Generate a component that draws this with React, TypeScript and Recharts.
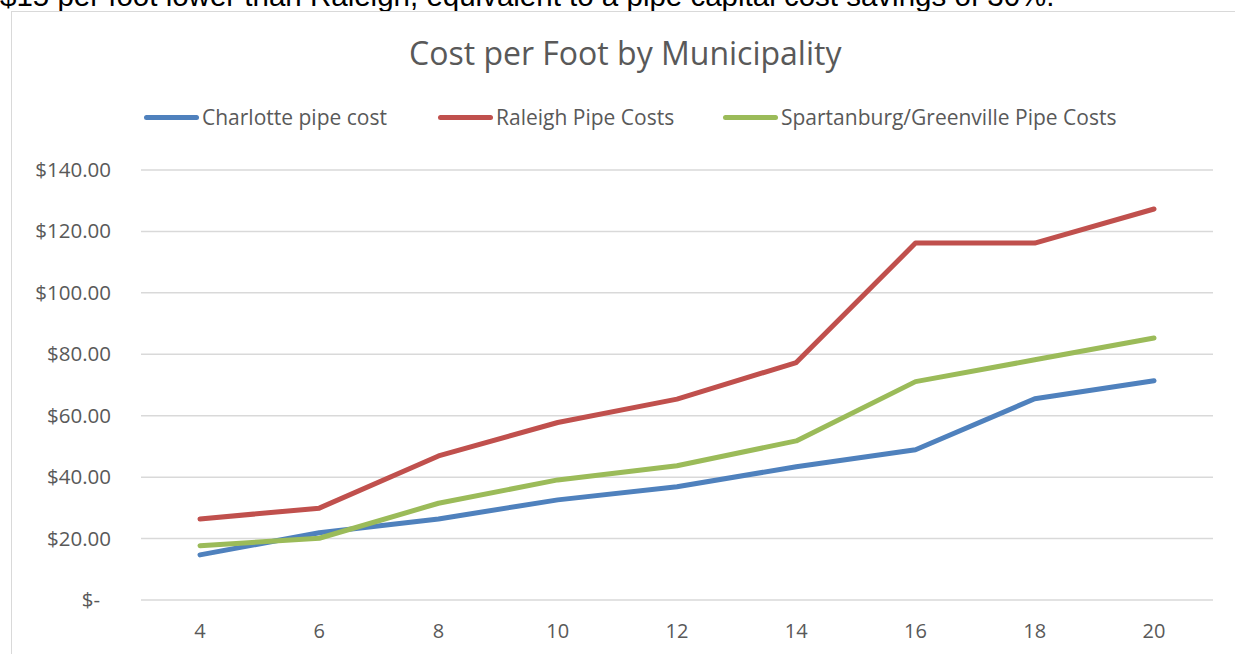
import { LineChart, Line, XAxis, YAxis, CartesianGrid } from "recharts";

const sizes = [4, 6, 8, 10, 12, 14, 16, 18, 20];
const charlotte = [14.7, 21.9, 26.4, 32.6, 36.9, 43.4, 48.9, 65.5, 71.4];
const raleigh = [26.4, 29.9, 46.9, 57.8, 65.4, 77.3, 116.2, 116.2, 127.3];
const spartanburg = [17.7, 20.1, 31.5, 39.1, 43.7, 51.8, 71.1, 78.2, 85.3];
const yTicks = [0, 20, 40, 60, 80, 100, 120, 140];

const series = [
  { key: "charlotte", name: "Charlotte pipe cost", color: "#4f81bd", left: 144 },
  { key: "raleigh", name: "Raleigh Pipe Costs", color: "#c0504d", left: 438 },
  { key: "spartanburg", name: "Spartanburg/Greenville Pipe Costs", color: "#9bbb59", left: 723 },
];

const data = sizes.map((s, i) => ({
  size: s,
  charlotte: charlotte[i],
  raleigh: raleigh[i],
  spartanburg: spartanburg[i],
}));

const FONT = "'Open Sans', Lato, sans-serif";
const GREY = "#595959";

function fmtMoney(v: number) {
  return v === 0 ? "$-" : "$" + v.toFixed(2);
}

function YTick(props: any) {
  const { x, y, payload } = props;
  const v = payload.value;
  return (
    <text
      x={v === 0 ? x - 33 : x - 22}
      y={y}
      dy={7}
      textAnchor="end"
      fill={GREY}
      fontSize={20.5}
      fontFamily={FONT}
    >
      {fmtMoney(v)}
    </text>
  );
}

function XTick(props: any) {
  const { x, y, payload } = props;
  return (
    <text x={x} y={y} dy={30} textAnchor="middle" fill={GREY} fontSize={20} fontFamily={FONT}>
      {payload.value}
    </text>
  );
}

export default function App() {
  return (
    <div style={{ position: "relative", width: 1235, height: 654, overflow: "hidden", background: "#fff" }}>
      <style>{"body{margin:0}"}</style>
      <div
        style={{
          position: "absolute",
          left: 0,
          top: -21,
          fontFamily: "'Liberation Sans', Arial, sans-serif",
          fontSize: 29.5,
          color: "#000",
          whiteSpace: "nowrap",
        }}
      >
        $15 per foot lower than Raleigh, equivalent to a pipe capital cost savings of 30%.
      </div>
      <div
        style={{
          position: "absolute",
          left: 11,
          top: 11,
          width: 1300,
          height: 700,
          borderLeft: "1.5px solid #d9d9d9",
          borderTop: "1.5px solid #d9d9d9",
          background: "#fff",
        }}
      />
      <div
        style={{
          position: "absolute",
          left: 409,
          top: 31,
          fontFamily: FONT,
          fontSize: 32,
          color: GREY,
          whiteSpace: "nowrap",
        }}
      >
        Cost per Foot by Municipality
      </div>
      {series.map((s) => (
        <div
          key={s.key}
          style={{
            position: "absolute",
            left: s.left,
            top: 103,
            display: "flex",
            alignItems: "center",
            fontFamily: FONT,
            fontSize: 21,
            color: GREY,
            whiteSpace: "nowrap",
          }}
        >
          <div style={{ width: 55, height: 5, borderRadius: 3, background: s.color, marginRight: 3 }} />
          <span>{s.name}</span>
        </div>
      ))}
      <div style={{ position: "absolute", left: 0, top: 0 }}>
        <LineChart width={1235} height={654} data={data} margin={{ top: 170, right: 22, bottom: 14, left: 10 }}>
          <CartesianGrid vertical={false} stroke="#d9d9d9" strokeWidth={1.5} />
          <XAxis
            dataKey="size"
            axisLine={false}
            tickLine={false}
            height={40}
            tick={<XTick />}
            interval={0}
            padding={{ left: 59, right: 59 }}
          />
          <YAxis
            domain={[0, 140]}
            ticks={yTicks}
            axisLine={false}
            tickLine={false}
            width={131}
            tick={<YTick />}
            interval={0}
          />
          {series.map((s) => (
            <Line
              key={s.key}
              type="linear"
              dataKey={s.key}
              name={s.name}
              stroke={s.color}
              strokeWidth={5}
              strokeLinecap="round"
              strokeLinejoin="round"
              dot={false}
              activeDot={false}
              isAnimationActive={false}
            />
          ))}
        </LineChart>
      </div>
    </div>
  );
}
